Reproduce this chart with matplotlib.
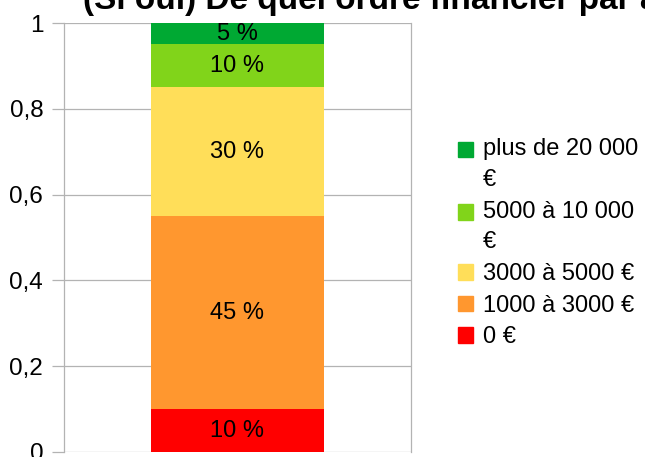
import matplotlib
matplotlib.use("Agg")
import matplotlib.pyplot as plt
import matplotlib.patches as mpatches
from matplotlib.legend_handler import HandlerPatch

plt.rcParams["font.family"] = ["Liberation Sans", "DejaVu Sans"]

categories = ["0 €", "1000 à 3000 €", "3000 à 5000 €", "5000 à 10 000\n€", "plus de 20 000\n€"]
shares = [0.10, 0.45, 0.30, 0.10, 0.05]
labels = ["10 %", "45 %", "30 %", "10 %", "5 %"]
colors = ["#ff0000", "#ff972f", "#ffde59", "#81d41a", "#00a933"]
title = "(Si oui) De quel ordre financier par an ?"


class FirstLineHandler(HandlerPatch):
    """square next to the first line of a wrapped legend label"""
    def __init__(self, shift, **kw):
        super().__init__(**kw)
        self.shift = shift

    def create_artists(self, legend, orig_handle, xdescent, ydescent, width,
                       height, fontsize, trans):
        return super().create_artists(legend, orig_handle, xdescent,
                                      ydescent - self.shift, width, height,
                                      fontsize, trans)


fig = plt.figure(figsize=(6.45, 4.57), dpi=100)
ax = fig.add_axes([64 / 645, 1 - 452 / 457, 347 / 645, 429 / 457])

bottom = 0
for v, lab, col in zip(shares, labels, colors):
    ax.bar(0.5, v, width=0.5, bottom=bottom, color=col, zorder=3)
    ax.text(0.5, bottom + v / 2, lab, ha="center", va="center", fontsize=17, zorder=4)
    bottom += v

ax.set_xlim(0, 1)
ax.set_ylim(0, 1)
ax.set_yticks([0, 0.2, 0.4, 0.6, 0.8, 1])
ax.set_yticklabels(["0", "0,2", "0,4", "0,6", "0,8", "1"], fontsize=17.5)
ax.set_xticks([])
ax.yaxis.grid(True, color="#b3b3b3", lw=0.9, zorder=0)
ax.tick_params(axis="y", length=9, width=0.9, color="#b3b3b3", pad=6)
for s in ["top", "bottom"]:
    ax.spines[s].set_visible(False)
for s in ["left", "right"]:
    ax.spines[s].set_color("#b3b3b3")
    ax.spines[s].set_linewidth(0.9)

patches = [mpatches.Patch(color=c) for c in colors]
hmap = {p: FirstLineHandler(11.0) for p, cat in zip(patches, categories) if "\n" in cat}
leg = ax.legend(patches[::-1], categories[::-1], loc="upper left", handler_map=hmap,
                bbox_to_anchor=(458 / 645, 1 - 138 / 457), bbox_transform=fig.transFigure,
                frameon=False, fontsize=17, handlelength=0.64, handleheight=0.64,
                handletextpad=0.4, labelspacing=0.41, borderpad=0, borderaxespad=0)
for t in leg.get_texts():
    t.set_linespacing(1.52)

fig.text(83 / 645, 1 - 8.5 / 457, title, ha="left", va="baseline",
         fontsize=24, fontweight="bold")

fig.savefig("out.png", dpi=100)
